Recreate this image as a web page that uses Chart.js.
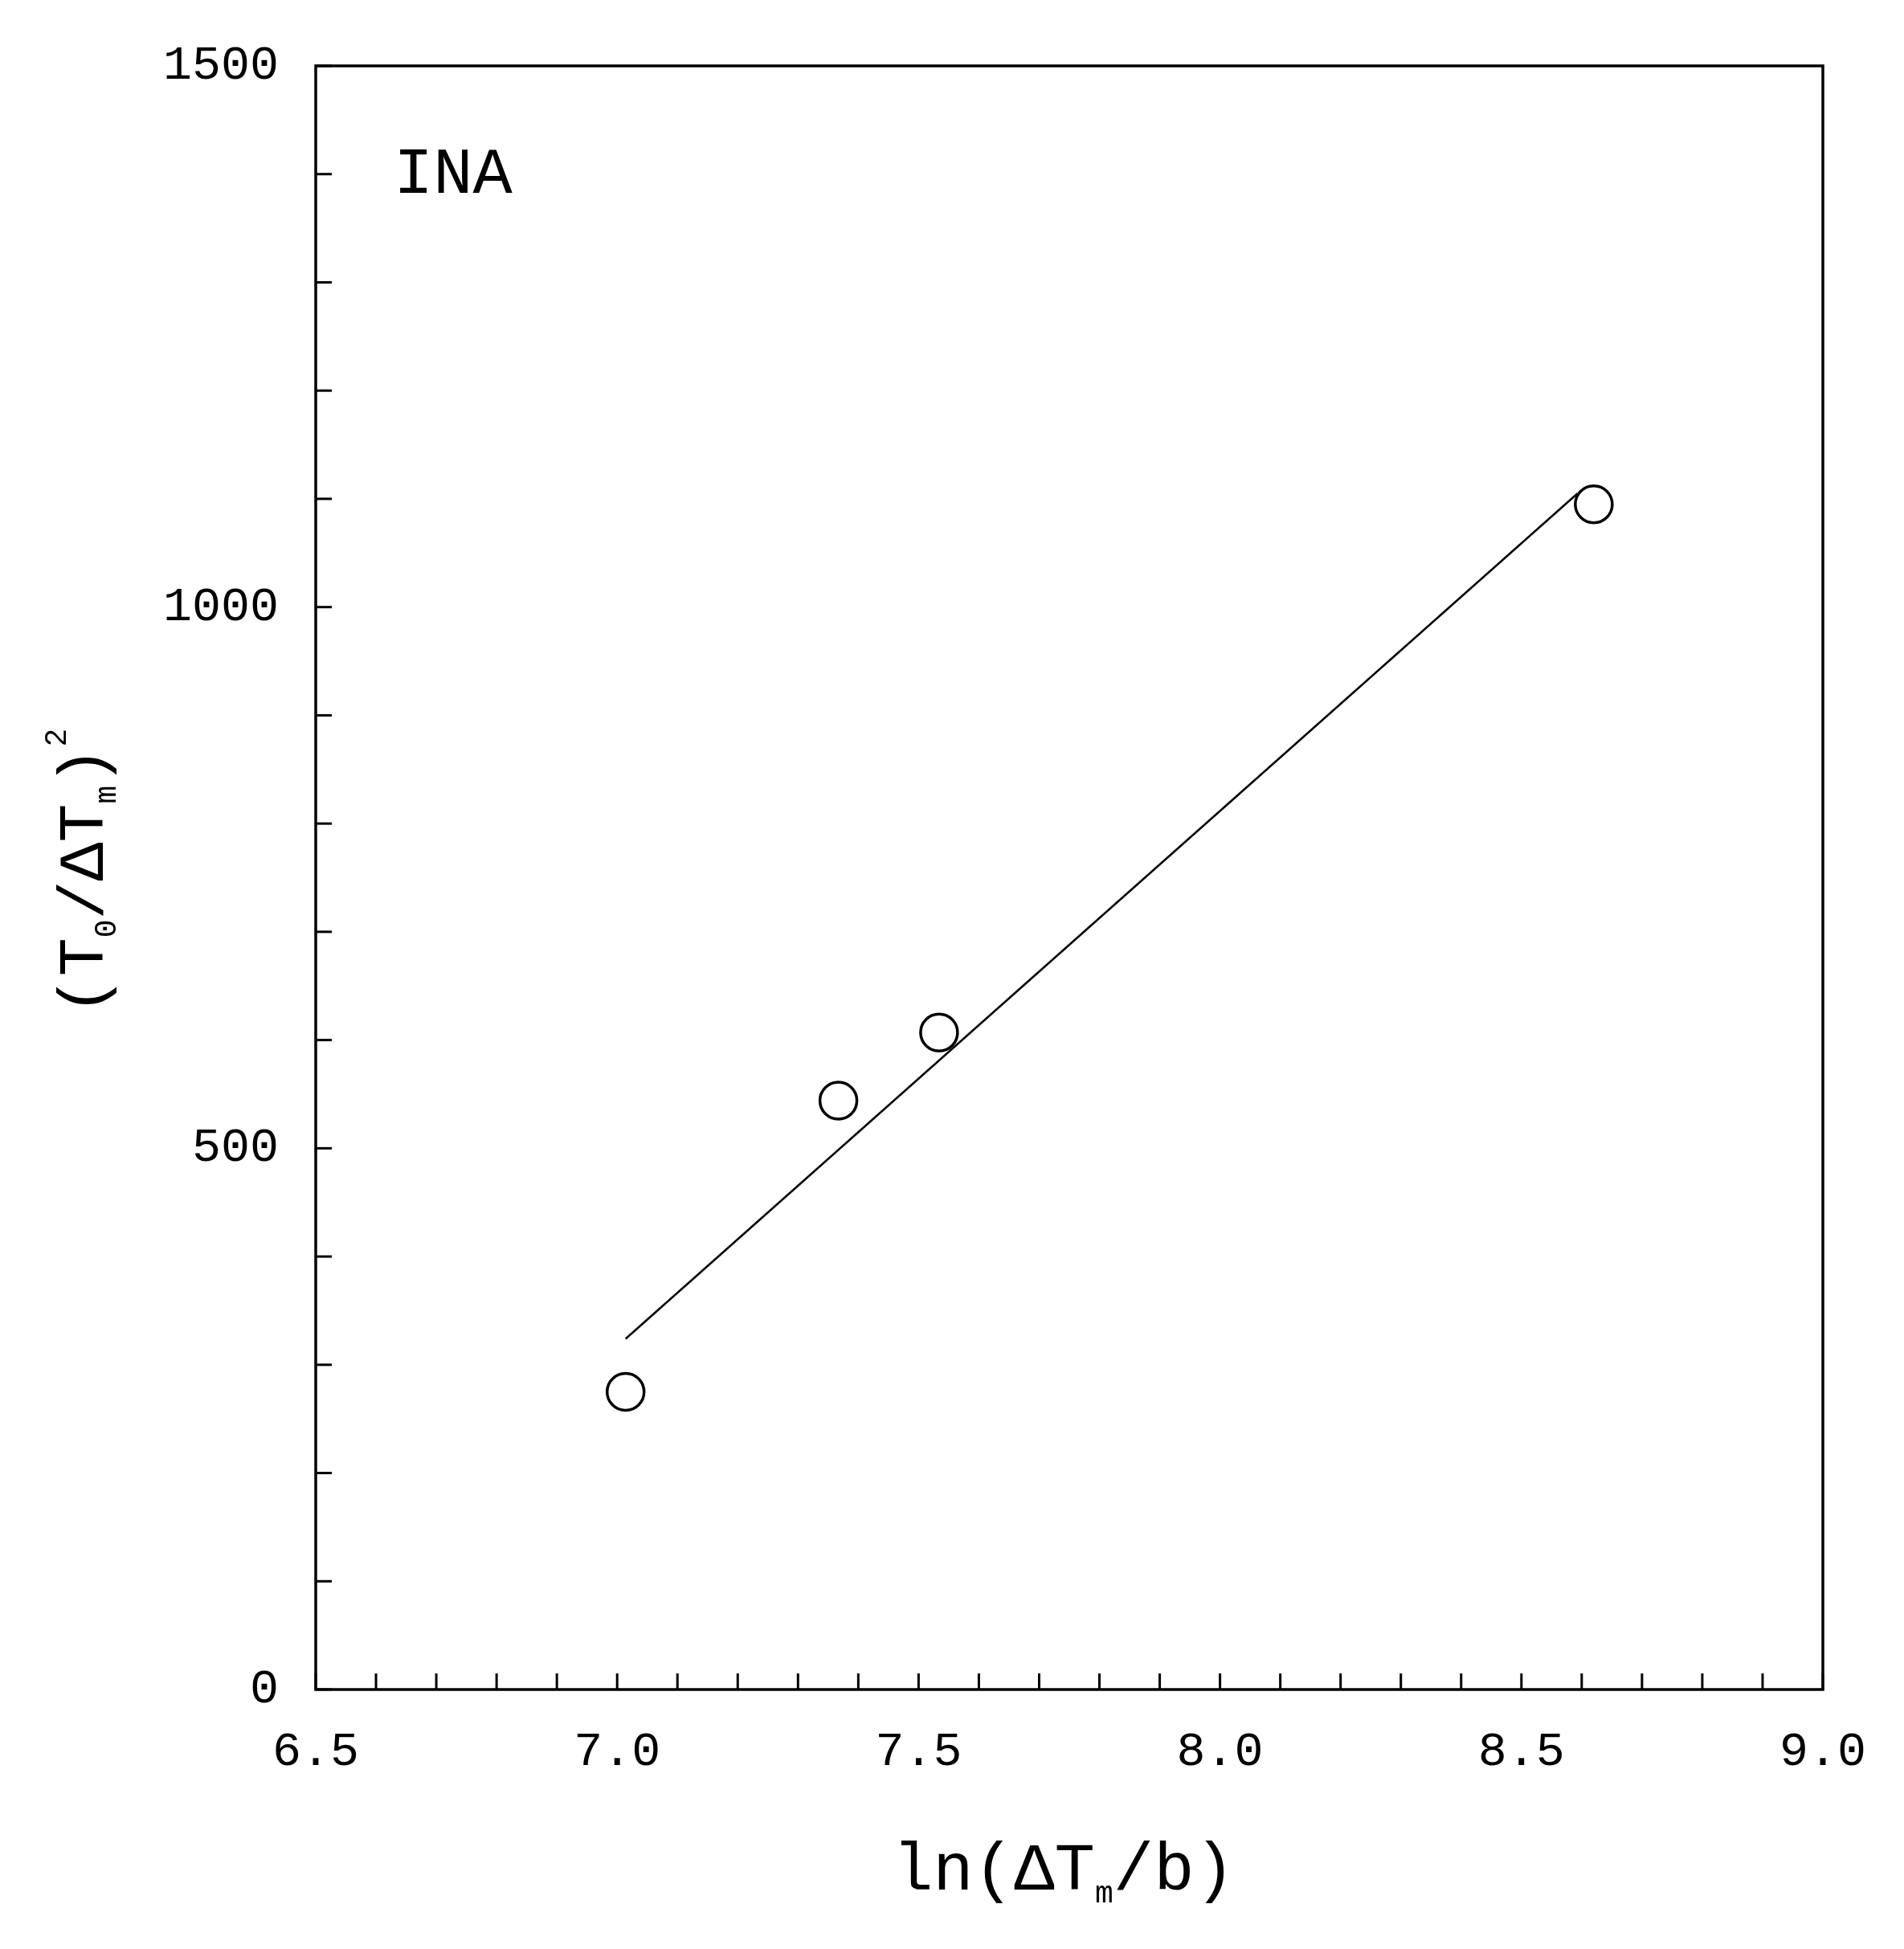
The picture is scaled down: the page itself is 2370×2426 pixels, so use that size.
<!DOCTYPE html>
<html><head><meta charset="utf-8">
<script src="https://cdn.jsdelivr.net/npm/chart.js@4"></script>
<style>html,body{margin:0;padding:0;background:#fff}#w{width:2370px;height:2426px}</style>
</head><body><div id="w"><canvas id="c"></canvas></div>
<script>
const pointX = [7.014, 7.367, 7.534, 8.620];
const pointY = [275, 544, 607, 1095];
const fitX = [7.014, 8.593];
const fitY = [324, 1105];
const xTicks = [6.5, 7.0, 7.5, 8.0, 8.5, 9.0];
const yTicks = [0, 500, 1000, 1500];
const FONT = '"Liberation Mono", "DejaVu Sans Mono", monospace';

const inward = {
  id: 'inward',
  afterDraw(chart) {
    const ctx = chart.ctx, a = chart.chartArea, x = chart.scales.x, y = chart.scales.y;
    ctx.save();
    ctx.strokeStyle = '#000'; ctx.lineWidth = 3.5;
    ctx.strokeRect(a.left, a.top, a.right - a.left, a.bottom - a.top);
    ctx.lineWidth = 3;
    for (let i = 0; i <= 25; i++) {
      const px = x.getPixelForValue(6.5 + i * 0.1);
      ctx.beginPath(); ctx.moveTo(px, a.bottom); ctx.lineTo(px, a.bottom - 20); ctx.stroke();
    }
    for (let i = 0; i <= 15; i++) {
      const py = y.getPixelForValue(i * 100);
      ctx.beginPath(); ctx.moveTo(a.left, py); ctx.lineTo(a.left + 20, py); ctx.stroke();
    }
    ctx.fillStyle = '#000';
    ctx.textBaseline = 'alphabetic';
    ctx.font = '82px ' + FONT;
    ctx.textAlign = 'left';
    ctx.fillText('INA', 490, 240);
    function seg(parts, big, small) {
      let w = 0;
      parts.forEach(p => { ctx.font = (p.s ? small : big) + 'px ' + FONT; w += ctx.measureText(p.t).width; });
      let cx = -w / 2;
      parts.forEach(p => {
        ctx.font = (p.s ? small : big) + 'px ' + FONT;
        ctx.fillText(p.t, cx, p.s || 0);
        cx += ctx.measureText(p.t).width;
      });
    }
    ctx.save();
    ctx.translate(1324, 2352);
    seg([{t:'ln(ΔT'},{t:'m',s:16},{t:'/b)'}], 84, 38);
    ctx.restore();
    ctx.save();
    ctx.translate(128, 1085); ctx.rotate(-Math.PI/2);
    seg([{t:'(T'},{t:'0',s:16},{t:'/ΔT'},{t:'m',s:16},{t:')'},{t:'2',s:-46}], 80, 38);
    ctx.restore();
    ctx.restore();
  }
};

new Chart(document.getElementById('c'), {
  type: 'scatter',
  data: { datasets: [
    { data: pointX.map((v,i)=>({x:v,y:pointY[i]})), pointRadius: 23, pointBorderWidth: 3.5,
      pointBorderColor: '#000', pointBackgroundColor: 'rgba(0,0,0,0)', showLine: false },
    { data: fitX.map((v,i)=>({x:v,y:fitY[i]})), showLine: true, pointRadius: 0,
      borderColor: '#000', borderWidth: 2.5 }
  ]},
  options: {
    responsive: true, maintainAspectRatio: false, animation: false,
    layout: { padding: { left: 0, top: 70, right: 101, bottom: 0 } },
    plugins: { legend: { display: false }, tooltip: { enabled: false } },
    scales: {
      x: { type: 'linear', min: 6.5, max: 9.0,
        afterBuildTicks: s => { s.ticks = xTicks.map(v => ({ value: v })); },
        afterFit: s => { s.height = 323; },
        grid: { display: false, drawTicks: false }, border: { display: false },
        ticks: { padding: 42, color: '#000', font: { family: FONT, size: 60 }, callback: v => Number(v).toFixed(1) } },
      y: { type: 'linear', min: 0, max: 1500,
        afterBuildTicks: s => { s.ticks = yTicks.map(v => ({ value: v })); },
        afterFit: s => { s.width = 393; },
        grid: { display: false, drawTicks: false }, border: { display: false },
        ticks: { padding: 46, color: '#000', font: { family: FONT, size: 60 }, callback: v => String(v) } }
    }
  },
  plugins: [inward]
});
</script></body></html>
